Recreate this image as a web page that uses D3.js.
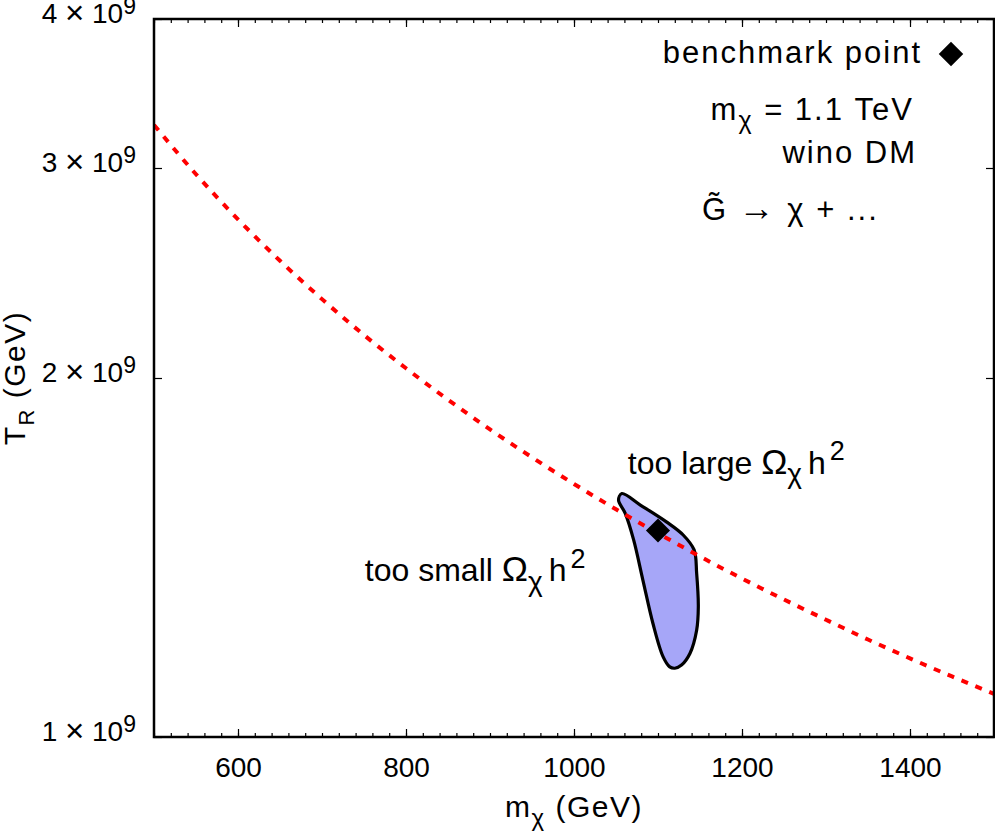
<!DOCTYPE html>
<html>
<head>
<meta charset="utf-8">
<script src="https://cdn.jsdelivr.net/npm/d3@7"></script>
<style>
  body { margin: 0; background: #fff; }
  text { font-family: "Liberation Sans", Arial, Helvetica, sans-serif; fill: #000; }
</style>
</head>
<body>
<div id="chart"></div>
<script>
// tick values
const massTicks = [600, 800, 1000, 1200, 1400];
const massMinor = d3.range(500, 1501, 20);
const trTicks = [1e9, 2e9, 3e9, 4e9];

// red dashed line
const boundaryMass = [500, 550, 600, 650, 700, 750, 800, 850, 900, 950, 1000,
    1050, 1100, 1150, 1200, 1250, 1300, 1350, 1400, 1450, 1500];
const boundaryTR = [3.260e9, 2.964e9, 2.717e9, 2.508e9, 2.329e9, 2.173e9, 2.038e9, 1.918e9, 1.811e9, 1.716e9, 1.630e9,
    1.552e9, 1.482e9, 1.417e9, 1.358e9, 1.304e9, 1.254e9, 1.207e9, 1.164e9, 1.124e9, 1.087e9];

// allowed region outline
const regionMass = [1057, 1079, 1110, 1130, 1143, 1146, 1148, 1146, 1138, 1128, 1120, 1114, 1106, 1094, 1082, 1071, 1061, 1053];
const regionTR = [1.600e9, 1.565e9, 1.515e9, 1.477e9, 1.435e9, 1.372e9, 1.286e9, 1.229e9, 1.175e9, 1.149e9,
    1.142e9, 1.145e9, 1.168e9, 1.245e9, 1.354e9, 1.463e9, 1.540e9, 1.580e9];

// benchmark point
const benchmarkMass = [1100];
const benchmarkTR = [1.49e9];

const margin = {top: 19, right: 1, bottom: 97, left: 154},
    width = 995 - margin.left - margin.right,
    height = 834 - margin.top - margin.bottom;

var Svg = d3.select("#chart")
    .append("svg")
    .attr("width", width + margin.left + margin.right)
    .attr("height", height + margin.top + margin.bottom)
    .append("g")
    .attr("transform", "translate(" + margin.left + "," + margin.top + ")");

const x = d3.scaleLinear()
    .domain([500, 1500])
    .range([0, width]);

const y = d3.scaleLog()
    .domain([1e9, 4e9])
    .range([height, 0]);

// writes a label with sub/superscripts into a text node
function richText(sel, parts, size) {
    let shift = 0;
    parts.forEach(function (p) {
        const fs = p.size || ((p.sub || p.sup) ? size * 0.75 : size);
        const target = p.sub ? size * 0.3 : (p.sup ? -size * 0.42 : 0);
        sel.append("tspan")
            .attr("dy", target - shift)
            .attr("dx", p.dx || 0)
            .attr("font-size", fs)
            .text(p.t);
        shift = target;
    });
}

// clip for lines
Svg.append("defs").append("clipPath")
    .attr("id", "clip")
    .append("rect")
    .attr("width", width)
    .attr("height", height);

// allowed region
const region = regionMass.map((m, i) => [m, regionTR[i]]);
Svg.append("path")
    .datum(region)
    .attr("fill", "#a6a6f8")
    .attr("stroke", "#000")
    .attr("stroke-width", 3.2)
    .attr("stroke-linejoin", "round")
    .attr("d", d3.line()
        .x(d => x(d[0]))
        .y(d => y(d[1]))
        .curve(d3.curveCatmullRomClosed.alpha(0.5)));

// boundary line
const boundary = boundaryMass.map((m, i) => [m, boundaryTR[i]]);
Svg.append("path")
    .datum(boundary)
    .attr("clip-path", "url(#clip)")
    .attr("fill", "none")
    .attr("stroke", "#ff0000")
    .attr("stroke-width", 4)
    .attr("stroke-dasharray", "7,8")
    .attr("d", d3.line()
        .x(d => x(d[0]))
        .y(d => y(d[1]))
        .curve(d3.curveMonotoneX));

// benchmark diamond
Svg.selectAll("bench")
    .data(benchmarkMass)
    .join("path")
    .attr("d", d3.symbol(d3.symbolSquare, 290))
    .attr("transform", (d, i) => "translate(" + x(d) + "," + y(benchmarkTR[i]) + ") rotate(45)")
    .attr("fill", "#000");

// axes: ticks point inwards
const hideDomain = g => g.select(".domain").remove();

Svg.append("g")
    .attr("transform", "translate(0," + height + ")")
    .call(d3.axisBottom(x).tickValues(massMinor).tickSize(-4).tickFormat(""))
    .call(hideDomain);
Svg.append("g")
    .attr("transform", "translate(0," + height + ")")
    .call(d3.axisBottom(x).tickValues(massTicks).tickSize(-8).tickPadding(20).tickFormat(d3.format("d")))
    .call(hideDomain)
    .call(g => g.selectAll(".tick text").attr("font-size", 28).attr("font-family", null));

Svg.append("g")
    .call(d3.axisTop(x).tickValues(massMinor).tickSize(-4).tickFormat(""))
    .call(hideDomain);
Svg.append("g")
    .call(d3.axisTop(x).tickValues(massTicks).tickSize(-8).tickFormat(""))
    .call(hideDomain);

Svg.append("g")
    .call(d3.axisLeft(y).tickValues(trTicks).tickSize(-8).tickPadding(18).tickFormat(""))
    .call(hideDomain)
    .call(g => g.selectAll(".tick text")
        .attr("font-family", null)
        .each(function (d) {
            const t = d3.select(this);
            t.append("tspan").attr("font-size", 28).text(d / 1e9 + " ");
            t.append("tspan").attr("font-size", 33).attr("dy", 1).text("\u00d7");
            t.append("tspan").attr("font-size", 28).attr("dy", -1).text(" 10");
            t.append("tspan").attr("font-size", 23).attr("dy", -9).text("9");
        }));
Svg.append("g")
    .attr("transform", "translate(" + width + ",0)")
    .call(d3.axisRight(y).tickValues(trTicks).tickSize(-8).tickFormat(""))
    .call(hideDomain);

Svg.selectAll(".tick line").attr("stroke", "#000").attr("stroke-width", 1.2);

// frame
Svg.append("rect")
    .attr("width", width)
    .attr("height", height)
    .attr("fill", "none")
    .attr("stroke", "#000")
    .attr("stroke-width", 2.5);

// axis titles
Svg.append("text")
    .attr("text-anchor", "middle")
    .attr("x", width / 2)
    .attr("y", height + 80)
    .style("letter-spacing", "1.5px")
    .call(t => richText(t, [{t: "m"}, {t: "\u03c7", sub: true, size: 24}, {t: " (GeV)"}], 30));

Svg.append("text")
    .attr("text-anchor", "middle")
    .attr("transform", "translate(" + (25 - margin.left) + "," + (378 - margin.top) + ") rotate(-90)")
    .style("letter-spacing", "1.5px")
    .call(t => richText(t, [{t: "T"}, {t: "R", sub: true, size: 22}, {t: "  (GeV)"}], 30));

// region annotations
Svg.append("text")
    .attr("x", x(1064))
    .attr("y", y(1.662e9))
    .call(t => richText(t, [{t: "too large "}, {t: "\u03a9", size: 35}, {t: "\u03c7", sub: true, size: 28},
        {t: "h", dx: 6}, {t: "2", sup: true, size: 27, dx: 4}], 32));

Svg.append("text")
    .attr("x", x(751))
    .attr("y", y(1.351e9))
    .call(t => richText(t, [{t: "too small "}, {t: "\u03a9", size: 35}, {t: "\u03c7", sub: true, size: 28},
        {t: "h", dx: 6}, {t: "2", sup: true, size: 27, dx: 4}], 32));

// legend block (top right)
const legend = Svg.append("g").style("letter-spacing", "2px");
legend.append("text")
    .attr("text-anchor", "end")
    .attr("x", 922 - margin.left)
    .attr("y", 63 - margin.top)
    .call(t => richText(t, [{t: "benchmark point"}], 31));
legend.append("path")
    .attr("d", d3.symbol(d3.symbolSquare, 300))
    .attr("transform", "translate(" + (951 - margin.left) + "," + (54 - margin.top) + ") rotate(45)")
    .attr("fill", "#000");
legend.append("text")
    .attr("text-anchor", "end")
    .attr("x", 914 - margin.left)
    .attr("y", 120 - margin.top)
    .call(t => richText(t, [{t: "m"}, {t: "\u03c7", sub: true, size: 25}, {t: " = 1.1 TeV"}], 31));
legend.append("text")
    .attr("text-anchor", "end")
    .attr("x", 917 - margin.left)
    .attr("y", 163 - margin.top)
    .call(t => richText(t, [{t: "wino DM"}], 31));
legend.append("text")
    .attr("x", 702 - margin.left)
    .attr("y", 220 - margin.top)
    .call(t => richText(t, [{t: "G\u0303 "}, {t: "\u2192", size: 36}, {t: " \u03c7 + ..."}], 31));
</script>
</body>
</html>
